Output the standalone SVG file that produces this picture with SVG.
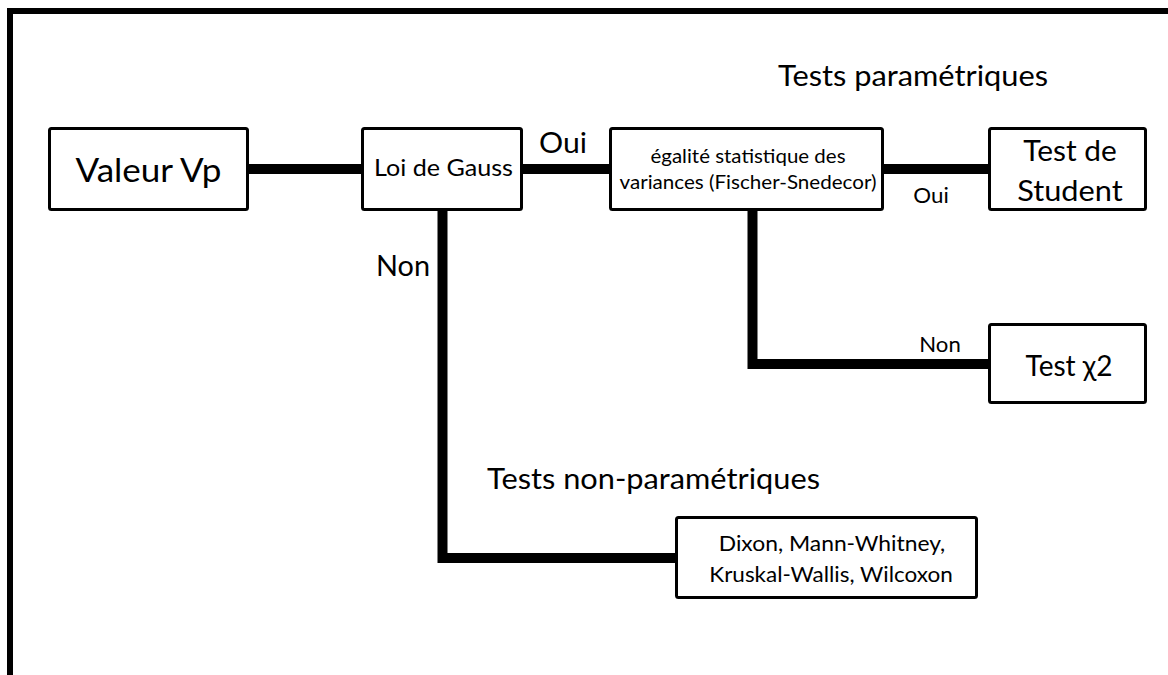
<svg xmlns="http://www.w3.org/2000/svg" width="1168" height="675" viewBox="0 0 1168 675">
<style>
.box{fill:#fff;stroke:#000;stroke-width:3}
.con{fill:none;stroke:#000;stroke-width:10;stroke-linejoin:miter;stroke-linecap:butt}
text{font-family:Lato,"Noto Sans","DejaVu Sans",sans-serif;fill:#000;text-anchor:middle}
</style>
<rect x="0" y="0" width="1168" height="675" fill="#fff"/>
<path d="M10 675 V11 H1168" fill="none" stroke="#000" stroke-width="6"/>
<g id="connectors">
<path class="con" d="M249 169 H362"/>
<path class="con" d="M522 169 H610"/>
<path class="con" d="M883 169 H989"/>
<path class="con" d="M442.5 210 V558 H677"/>
<path class="con" d="M752.5 210 V364 H989"/>
</g>
<g id="labels">
<text x="563" y="153" font-size="28.8" textLength="48" lengthAdjust="spacingAndGlyphs">Oui</text>
<text x="403" y="276" font-size="28.8" textLength="54" lengthAdjust="spacingAndGlyphs">Non</text>
<text x="931" y="203" font-size="21.6" textLength="35.5" lengthAdjust="spacingAndGlyphs">Oui</text>
<text x="940" y="352" font-size="21.6" textLength="41.5" lengthAdjust="spacingAndGlyphs">Non</text>
<text x="913" y="86" font-size="28.8" textLength="270" lengthAdjust="spacingAndGlyphs">Tests paramétriques</text>
<text x="653.5" y="489" font-size="28.8" textLength="333" lengthAdjust="spacingAndGlyphs">Tests non-paramétriques</text>
</g>
<g id="node-valeur">
<rect class="box" x="49.5" y="128.5" width="198" height="81" rx="2"/>
<text x="148.5" y="182" font-size="33.5" textLength="146" lengthAdjust="spacingAndGlyphs">Valeur Vp</text>
</g>
<g id="node-gauss">
<rect class="box" x="362.5" y="128.5" width="159" height="81" rx="2"/>
<text x="443.5" y="176" font-size="24" textLength="139" lengthAdjust="spacingAndGlyphs">Loi de Gauss</text>
</g>
<g id="node-egalite">
<rect class="box" x="610.5" y="128.5" width="272" height="81" rx="2"/>
<text x="748" y="163" font-size="19.2" textLength="195" lengthAdjust="spacingAndGlyphs">égalité statistique des</text>
<text x="748" y="189" font-size="19.2" textLength="257" lengthAdjust="spacingAndGlyphs">variances (Fischer-Snedecor)</text>
</g>
<g id="node-student">
<rect class="box" x="989.5" y="128.5" width="156" height="81" rx="2"/>
<text x="1070" y="161" font-size="28.8" textLength="93.5" lengthAdjust="spacingAndGlyphs">Test de</text>
<text x="1070" y="201" font-size="28.8" textLength="105.5" lengthAdjust="spacingAndGlyphs">Student</text>
</g>
<g id="node-chi2">
<rect class="box" x="989.5" y="324.5" width="156" height="78" rx="2"/>
<text x="1069" y="376" font-size="28.8" textLength="87" lengthAdjust="spacingAndGlyphs">Test χ2</text>
</g>
<g id="node-nonparam">
<rect class="box" x="676.5" y="517.5" width="300" height="80" rx="2"/>
<text x="832" y="551" font-size="21.6" textLength="226.5" lengthAdjust="spacingAndGlyphs">Dixon, Mann-Whitney,</text>
<text x="831" y="582" font-size="21.6" textLength="243.5" lengthAdjust="spacingAndGlyphs">Kruskal-Wallis, Wilcoxon</text>
</g>
</svg>
